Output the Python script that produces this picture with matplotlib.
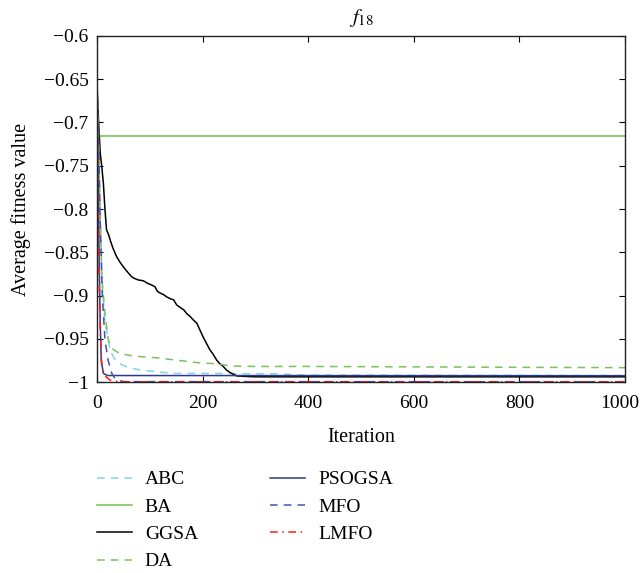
import matplotlib
matplotlib.use('Agg')
import matplotlib.pyplot as plt
import matplotlib.transforms as mtransforms

# ---------- DATA ----------

abc_it = [0, 3, 6, 10, 15, 21, 25, 30, 37, 50, 65, 81, 110, 145, 200, 334, 400, 1000]
abc_val = [-0.65, -0.73, -0.82, -0.89, -0.93, -0.951, -0.963, -0.970, -0.9765, -0.981,
           -0.984, -0.986, -0.988, -0.990, -0.990, -0.9905, -0.992, -0.9925]

ba_it = [0, 1, 1000]
ba_val = [-0.645, -0.7156, -0.7156]

ggsa_it = [0, 3, 6, 9, 12, 15, 18, 22, 25, 30, 37, 44, 50, 58, 65, 70, 78, 88, 96, 104,
           110, 114, 119, 126, 133, 140, 145, 151, 158, 165, 170, 176, 182, 189, 195, 201,
           207, 214, 220, 227, 233, 239, 245, 252, 258, 265, 280, 300, 1000]
ggsa_val = [-0.660, -0.700, -0.735, -0.751, -0.770, -0.800, -0.824, -0.830, -0.836, -0.845,
            -0.855, -0.862, -0.867, -0.873, -0.878, -0.880, -0.882, -0.883, -0.886, -0.888,
            -0.890, -0.895, -0.897, -0.899, -0.902, -0.904, -0.905, -0.911, -0.914, -0.917,
            -0.921, -0.924, -0.928, -0.932, -0.940, -0.948, -0.955, -0.963, -0.968, -0.975,
            -0.979, -0.982, -0.986, -0.989, -0.991, -0.993, -0.9935, -0.994, -0.994]

da_it = [0, 3, 6, 9, 12, 15, 18, 21, 25, 30, 40, 50, 70, 90, 113, 140, 176, 195, 230,
         252, 300, 400, 600, 800, 1000]
da_val = [-0.645, -0.72, -0.80, -0.878, -0.90, -0.920, -0.935, -0.950, -0.958, -0.962,
          -0.966, -0.968, -0.970, -0.971, -0.972, -0.974, -0.9765, -0.978, -0.979,
          -0.9815, -0.982, -0.982, -0.9825, -0.983, -0.9834]

psogsa_it = [0, 2, 4, 6, 8, 12, 20, 1000]
psogsa_val = [-0.66, -0.76, -0.86, -0.93, -0.975, -0.990, -0.9925, -0.9927]

mfo_it = [0, 3, 6, 10, 15, 21, 28, 35, 50, 1000]
mfo_val = [-0.655, -0.72, -0.813, -0.90, -0.951, -0.975, -0.990, -0.997, -0.9995, -0.9997]

lmfo_it = [0, 2, 4, 6, 9, 15, 25, 40, 1000]
lmfo_val = [-0.655, -0.78, -0.88, -0.94, -0.982, -0.993, -0.998, -0.9997, -0.9997]

x_ticks = [0, 200, 400, 600, 800, 1000]
y_ticks = [-1, -0.95, -0.9, -0.85, -0.8, -0.75, -0.7, -0.65, -0.6]
y_labels = ['\u22121', '\u22120.95', '\u22120.9', '\u22120.85', '\u22120.8',
            '\u22120.75', '\u22120.7', '\u22120.65', '\u22120.6']

# ---------- PLOT ----------

plt.rcParams['font.family'] = ['Liberation Serif', 'DejaVu Serif']
plt.rcParams['mathtext.fontset'] = 'stix'

fig = plt.figure(figsize=(6.43, 5.73), dpi=100)
ax = fig.add_axes([0.1509, 0.3333, 0.8211, 0.6039])

ax.plot(abc_it, abc_val, color='#86d3e3', ls=(0, (5, 4)), lw=1.1, label='ABC')
ax.plot(ba_it, ba_val, color='#6cc24a', ls='-', lw=1.1, label='BA')
ax.plot(ggsa_it, ggsa_val, color='black', ls='-', lw=1.1, label='GGSA')
ax.plot(da_it, da_val, color='#79c35a', ls=(0, (5, 4)), lw=1.1, label='DA')
ax.plot(psogsa_it, psogsa_val, color='#2b3a8a', ls='-', lw=1.1, label='PSOGSA')
ax.plot(mfo_it, mfo_val, color='#3a57b0', ls=(0, (5, 4)), lw=1.1, label='MFO')
ax.plot(lmfo_it, lmfo_val, color='#ff1a1a', ls=(0, (5, 3, 1, 3)), lw=1.1, label='LMFO')

ax.set_xlim(0, 1000)
ax.set_ylim(-1, -0.6)
ax.set_xticks(x_ticks)
ax.set_yticks(y_ticks)
ax.set_yticklabels(y_labels)
ax.tick_params(direction='in', top=True, right=True, labelsize=14, length=4, width=0.8)
ax.tick_params(axis='y', pad=6)
ax.tick_params(axis='x', pad=9)
for s in ax.spines.values():
    s.set_linewidth(1.0)
    s.set_color('#222222')

# nudge the "1000" label left a bit so it stays inside the figure
last = ax.get_xticklabels()[-1]
last.set_transform(last.get_transform() +
                   mtransforms.ScaledTranslation(-4 / 72, 0, fig.dpi_scale_trans))

ax.set_xlabel('Iteration', fontsize=14.5, labelpad=12)
ax.set_ylabel('Average fitness value', fontsize=14.5, labelpad=9)
ax.set_title('$f_{18}$', fontsize=15, pad=9)

fig.legend(loc='upper left', bbox_to_anchor=(0.1385, 0.192), ncol=2, frameon=False,
           fontsize=14, handlelength=1.8, handletextpad=0.67, columnspacing=3.7,
           labelspacing=0.5, borderaxespad=0)

fig.savefig('out.png', dpi=100)
